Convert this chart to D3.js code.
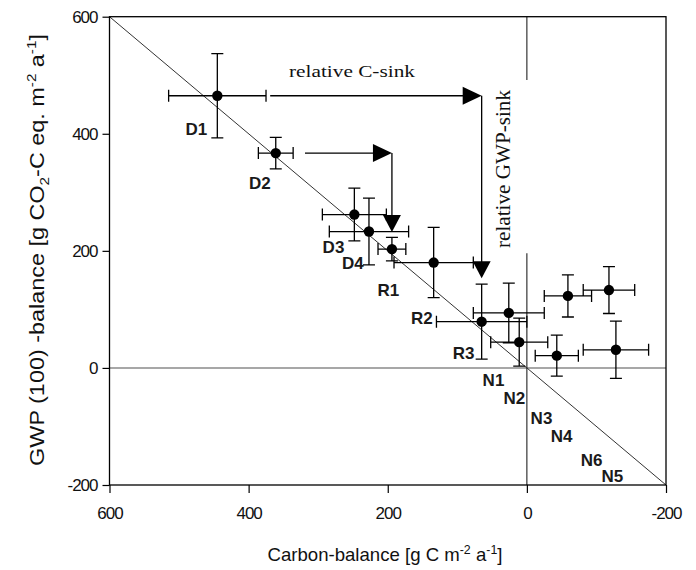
<!DOCTYPE html>
<html>
<head>
<meta charset="utf-8">
<script src="https://cdn.jsdelivr.net/npm/d3@7"></script>
<style>
  body { margin: 0; background: #fff; }
  svg { display: block; }
  .tick text { font-family: "Liberation Sans", Arial, sans-serif; font-size: 17px; letter-spacing: -1px; fill: #111; }
  .tick line { stroke: #000; stroke-width: 1.2; }
</style>
</head>
<body>
<div id="container"></div>
<script>
// carbon-balance (x) and GWP balance (y) with their errors
const xVals = [445, 361, 248, 227, 194, 134, 65, 26, 11, -43, -59, -118, -128];
const yVals = [465, 367, 262, 233, 203, 180, 79, 94, 44, 21, 123, 133, 31];
const xErr  = [70, 25, 46, 57, 20, 57, 65, 51, 41, 31, 34, 37, 47];
const yErr  = [72, 27, 45, 57, 20, 60, 64, 51, 41, 35, 36, 40, 49];

// site labels, placed in data units
const siteNames = ["D1", "D2", "D3", "D4", "R1", "R2", "R3", "N1", "N2", "N3", "N4", "N6", "N5"];
const siteX = [475, 384, 278, 250, 199, 151, 91, 48, 18, -21, -50, -93, -123];
const siteY = [408, 315, 206, 178, 133, 84, 24, -22, -52, -86, -118, -158, -185];

const tickValues = [600, 400, 200, 0, -200];

// arrows: horizontal from (x0, y0) to xc, then down to yEnd
const arrows = [
    { x0: 369, y0: 465, xc: 65, yEnd: 153 },
    { x0: 319, y0: 367, xc: 194, yEnd: 232 }
];

const width = 696, height = 570;
const svg = d3.select("#container").append("svg")
    .attr("width", width)
    .attr("height", height);

const x = d3.scaleLinear().domain([600, -200]).range([109.5, 666]);
const y = d3.scaleLinear().domain([600, -200]).range([16.7, 485]);

// reference lines
svg.append("line")
    .attr("x1", x(600)).attr("x2", x(-200))
    .attr("y1", y(0)).attr("y2", y(0))
    .attr("stroke", "#8a8a8a").attr("stroke-width", 1.6);

[[600, 492], [196, -200]].forEach(seg => {
    svg.append("line")
        .attr("x1", x(0)).attr("x2", x(0))
        .attr("y1", y(seg[0])).attr("y2", y(seg[1]))
        .attr("stroke", "#222").attr("stroke-width", 1.1);
});

svg.append("line")
    .attr("x1", x(600)).attr("y1", y(600))
    .attr("x2", x(-200)).attr("y2", y(-200))
    .attr("stroke", "#333").attr("stroke-width", 1);

// axes (plain hyphen for negatives, as in the original)
svg.append("g")
    .attr("transform", `translate(0,${y(-200)})`)
    .call(d3.axisBottom(x).tickValues(tickValues).tickSize(8).tickPadding(14).tickFormat(d => String(d)))
    .call(g => g.select(".domain").remove());

svg.append("g")
    .attr("transform", `translate(${x(600)},0)`)
    .call(d3.axisLeft(y).tickValues(tickValues).tickSize(7).tickPadding(5).tickFormat(d => String(d)))
    .call(g => g.select(".domain").remove());

svg.append("rect")
    .attr("x", x(600)).attr("y", y(600))
    .attr("width", x(-200) - x(600)).attr("height", y(-200) - y(600))
    .attr("fill", "none").attr("stroke", "#000").attr("stroke-width", 1.3);

// arrows
arrows.forEach(a => {
    const xc = x(a.xc), y0 = y(a.y0), yE = y(a.yEnd);
    svg.append("path")
        .attr("d", `M${x(a.x0)},${y0}H${xc - 15}M${xc},${y0}V${yE - 14}`)
        .attr("stroke", "#000").attr("stroke-width", 1.3).attr("fill", "none");
    svg.append("path")
        .attr("d", `M${xc},${y0}L${xc - 19},${y0 - 9}L${xc - 19},${y0 + 9}Z`)
        .attr("fill", "#000");
    svg.append("path")
        .attr("d", `M${xc},${yE}L${xc - 9},${yE - 17}L${xc + 9},${yE - 17}Z`)
        .attr("fill", "#000");
});

// error bars
const cap = 6;
const pts = svg.append("g").selectAll("g")
    .data(xVals.map((v, i) => ({ x: v, y: yVals[i], ex: xErr[i], ey: yErr[i] })))
    .join("g")
    .attr("stroke", "#000").attr("stroke-width", 1.3);

pts.append("path")
    .attr("fill", "none")
    .attr("d", d => {
        const cx = x(d.x), cy = y(d.y);
        const xl = x(d.x + d.ex), xr = x(d.x - d.ex);
        const yt = y(d.y + d.ey), yb = y(d.y - d.ey);
        return `M${xl},${cy}H${xr}M${xl},${cy - cap}V${cy + cap}M${xr},${cy - cap}V${cy + cap}` +
            `M${cx},${yt}V${yb}M${cx - cap},${yt}H${cx + cap}M${cx - cap},${yb}H${cx + cap}`;
    });

pts.append("circle")
    .attr("cx", d => x(d.x)).attr("cy", d => y(d.y))
    .attr("r", 5.2).attr("fill", "#000").attr("stroke", "none");

// site labels
svg.append("g").selectAll("text")
    .data(siteNames)
    .join("text")
    .attr("x", (d, i) => x(siteX[i]))
    .attr("y", (d, i) => y(siteY[i]))
    .attr("text-anchor", "middle")
    .attr("dominant-baseline", "central")
    .style("font-family", "'Liberation Sans', Arial, sans-serif")
    .style("font-weight", "bold")
    .style("font-size", "17px")
    .attr("fill", "#1a1a1a")
    .text(d => d);

// stretch a text element horizontally to a target length
function fit(textSel, target) {
    const len = textSel.node().getComputedTextLength();
    return target / len;
}

// annotation texts
const cSink = svg.append("text")
    .style("font-family", "'Liberation Serif', 'Times New Roman', serif")
    .style("font-size", "17px")
    .attr("fill", "#111")
    .text("relative C-sink");
cSink.attr("transform", `translate(289,77) scale(${fit(cSink, 126)},1)`);

const gSink = svg.append("text")
    .style("font-family", "'Liberation Serif', 'Times New Roman', serif")
    .style("font-size", "21px")
    .attr("fill", "#111")
    .attr("text-anchor", "middle")
    .text("relative GWP-sink");
gSink.attr("transform", `translate(510,169) rotate(-90) scale(${fit(gSink, 158)},1)`);

// axis titles
const xTitle = svg.append("text")
    .style("font-family", "'Liberation Sans', Arial, sans-serif")
    .style("font-size", "18px")
    .attr("fill", "#111")
    .attr("text-anchor", "middle");
xTitle.append("tspan").text("Carbon-balance [g C m");
xTitle.append("tspan").attr("dy", -7).style("font-size", "12px").text("-2");
xTitle.append("tspan").attr("dy", 7).text(" a");
xTitle.append("tspan").attr("dy", -7).style("font-size", "12px").text("-1");
xTitle.append("tspan").attr("dy", 7).text("]");
xTitle.attr("transform", `translate(385,561) scale(${fit(xTitle, 235)},1)`);

const yTitle = svg.append("text")
    .style("font-family", "'Liberation Sans', Arial, sans-serif")
    .style("font-size", "20px")
    .attr("fill", "#111")
    .attr("text-anchor", "middle");
yTitle.append("tspan").text("GWP (100) -balance [g CO");
yTitle.append("tspan").attr("dy", 5).style("font-size", "13px").text("2");
yTitle.append("tspan").attr("dy", -5).text("-C eq. m");
yTitle.append("tspan").attr("dy", -8).style("font-size", "13px").text("-2");
yTitle.append("tspan").attr("dy", 8).text(" a");
yTitle.append("tspan").attr("dy", -8).style("font-size", "13px").text("-1");
yTitle.append("tspan").attr("dy", 8).text("]");
yTitle.attr("transform", `translate(44,250) rotate(-90) scale(${fit(yTitle, 432)},1)`);
</script>
</body>
</html>
